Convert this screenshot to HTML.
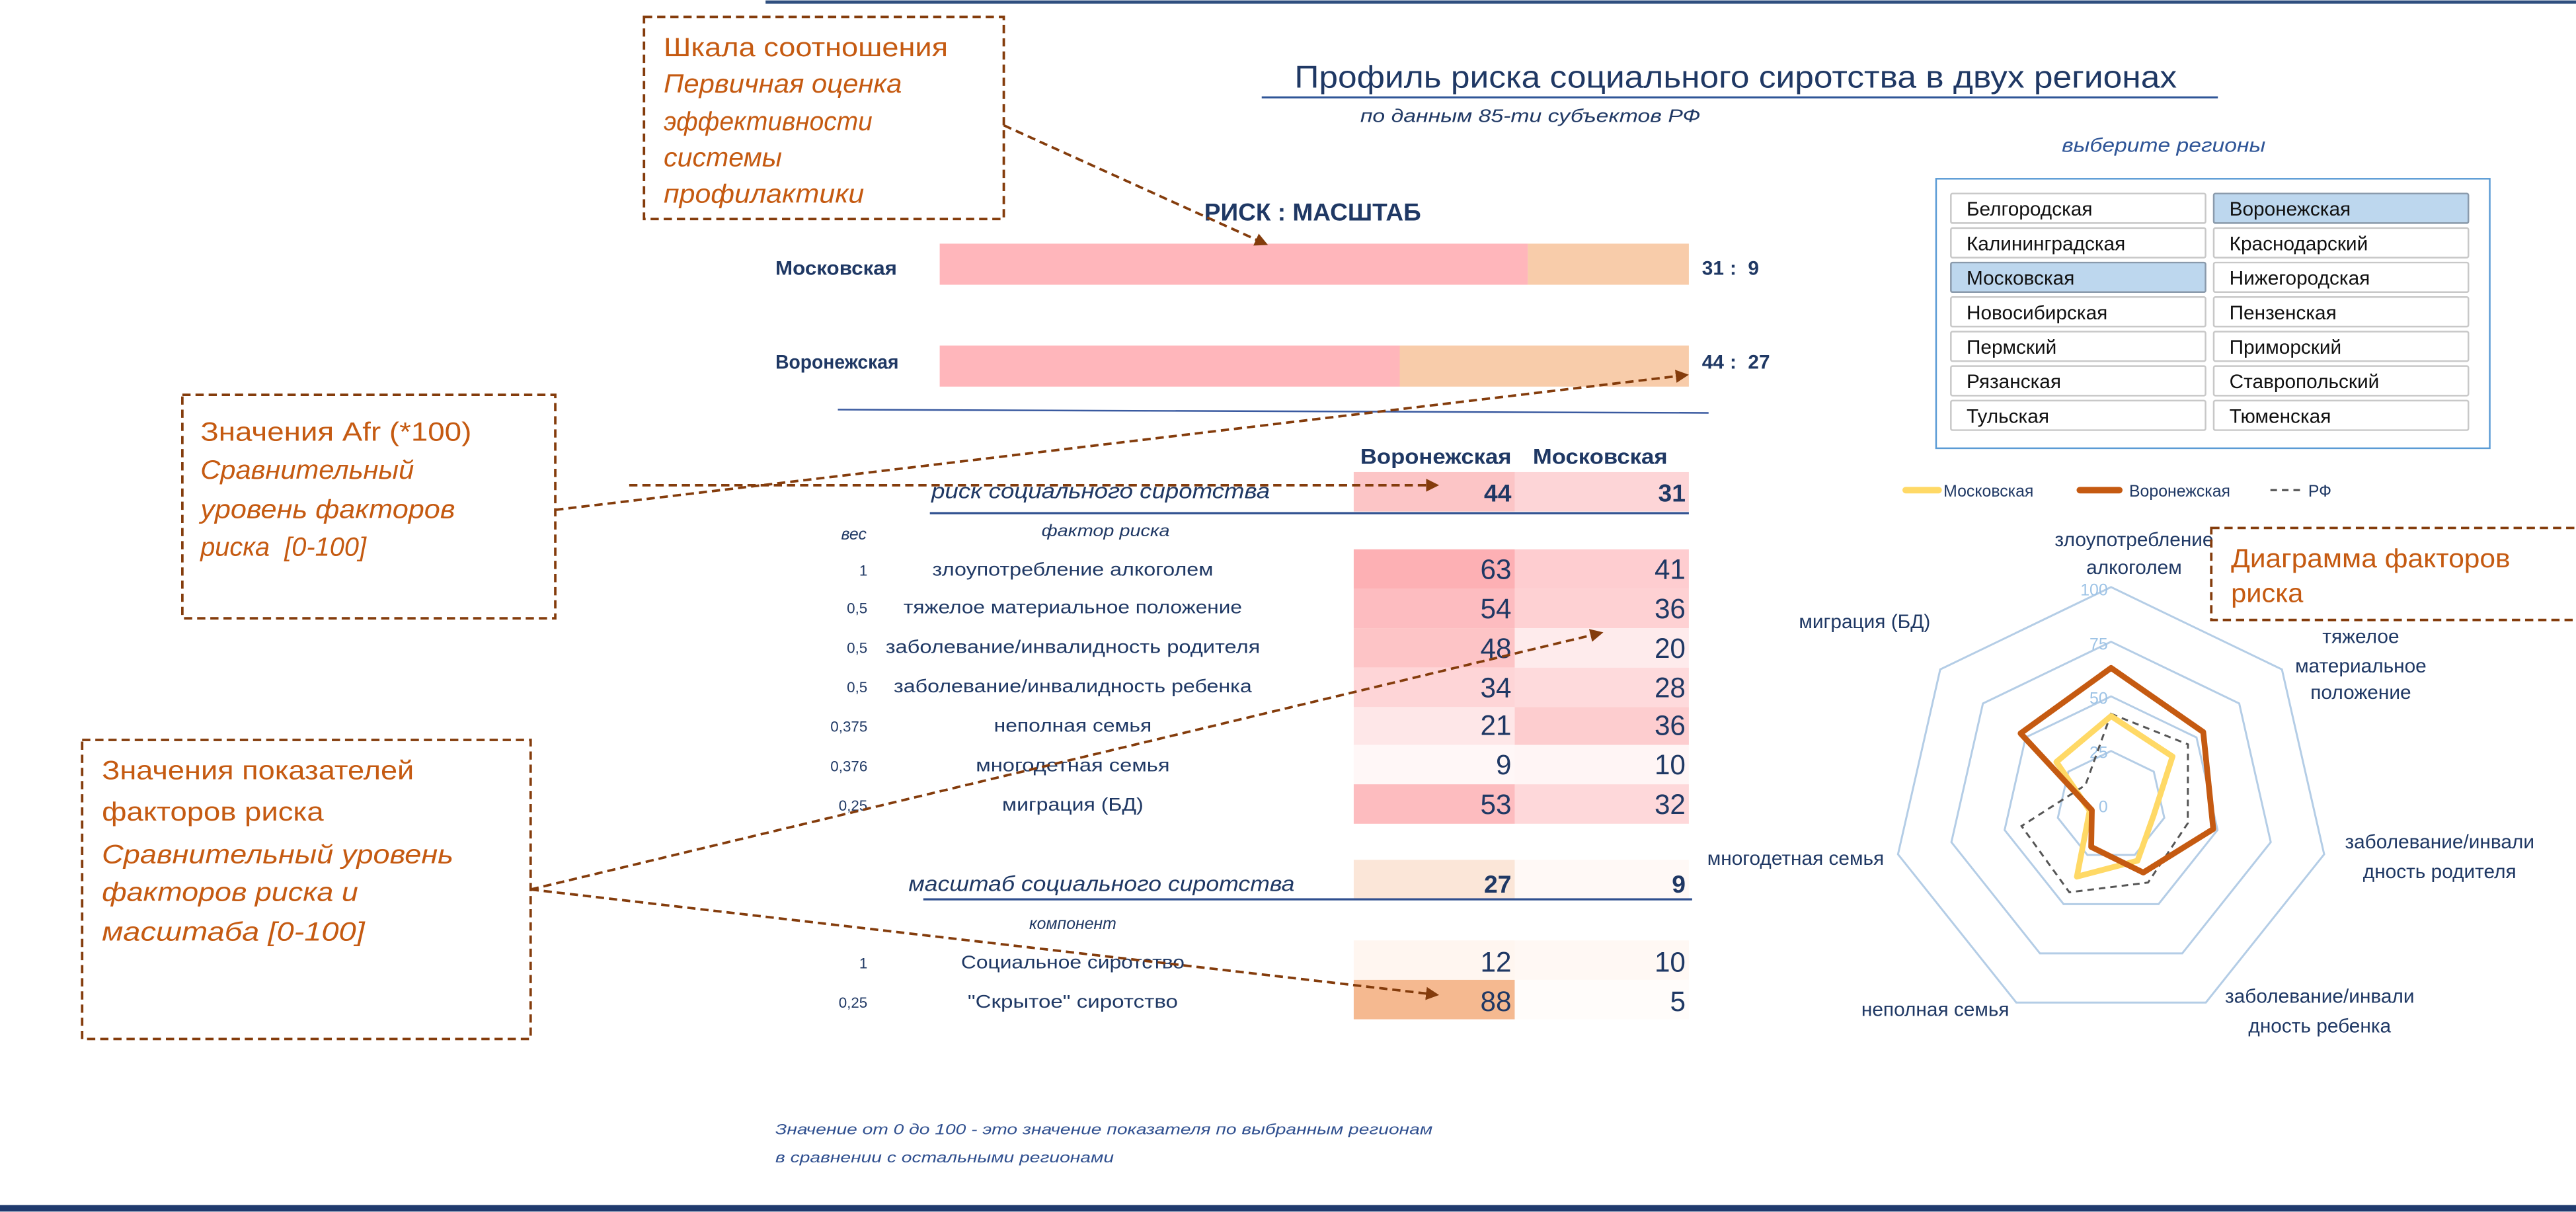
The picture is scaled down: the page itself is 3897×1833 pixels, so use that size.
<!DOCTYPE html>
<html><head><meta charset="utf-8"><style>
html,body{margin:0;padding:0;background:#fff}
svg{display:block}
text{font-family:"Liberation Sans",sans-serif}
</style></head><body>
<svg width="3897" height="1833" viewBox="0 0 1568 737" xmlns="http://www.w3.org/2000/svg">
<defs>
<marker id="ah" markerWidth="8" markerHeight="8" refX="6" refY="4" orient="auto" markerUnits="userSpaceOnUse">
<path d="M0,0 L8,4 L0,8 Z" fill="#843c0c"/></marker>
</defs>
<rect width="1568" height="737" fill="#fff"/>
<rect x="466" y="0" width="1102" height="2" fill="#2f4f7f"/>
<rect x="0" y="733" width="1568" height="4" fill="#1f3a6e"/>

<!-- Title -->
<text x="788" y="53" font-size="19" fill="#1f3864" textLength="537" lengthAdjust="spacingAndGlyphs">Профиль риска социального сиротства в двух регионах</text>
<line x1="768" y1="59" x2="1350" y2="59" stroke="#2f5597" stroke-width="1.2"/>
<text x="828" y="74" font-size="11" font-style="italic" fill="#1f3864" textLength="207" lengthAdjust="spacingAndGlyphs">по данным 85-ти субъектов РФ</text>

<!-- Ratio bars -->
<text x="733" y="134" font-size="15" font-weight="bold" fill="#1f3864" textLength="132" lengthAdjust="spacingAndGlyphs">РИСК : МАСШТАБ</text>
<text x="472" y="167" font-size="12" font-weight="bold" fill="#1f3864" textLength="74" lengthAdjust="spacingAndGlyphs">Московская</text>
<rect x="572" y="148" width="358" height="25" fill="#ffb6bb"/>
<rect x="930" y="148" width="98" height="25" fill="#f8ccaa"/>
<text x="1036" y="167" font-size="12" font-weight="bold" fill="#1f3864">31</text>
<text x="1053" y="167" font-size="12" font-weight="bold" fill="#1f3864">:</text>
<text x="1064" y="167" font-size="12" font-weight="bold" fill="#1f3864">9</text>
<text x="472" y="224" font-size="12" font-weight="bold" fill="#1f3864" textLength="75" lengthAdjust="spacingAndGlyphs">Воронежская</text>
<rect x="572" y="210" width="280" height="25" fill="#ffb6bb"/>
<rect x="852" y="210" width="176" height="25" fill="#f8ccaa"/>
<text x="1036" y="224" font-size="12" font-weight="bold" fill="#1f3864">44</text>
<text x="1053" y="224" font-size="12" font-weight="bold" fill="#1f3864">:</text>
<text x="1064" y="224" font-size="12" font-weight="bold" fill="#1f3864">27</text>
<line x1="510" y1="249" x2="1040" y2="251" stroke="#3a5aa0" stroke-width="1"/>

<!-- Table -->
<text x="828" y="282" font-size="13" font-weight="bold" fill="#1f3864" textLength="92" lengthAdjust="spacingAndGlyphs">Воронежская</text>
<text x="933" y="282" font-size="13" font-weight="bold" fill="#1f3864" textLength="82" lengthAdjust="spacingAndGlyphs">Московская</text>
<rect x="824" y="287" width="98" height="24" fill="#fcc5c6"/>
<rect x="922" y="287" width="106" height="24" fill="#fdd5d7"/>
<text x="567" y="303" font-size="13" font-style="italic" fill="#1f3864" textLength="206" lengthAdjust="spacingAndGlyphs">риск социального сиротства</text>
<text x="920" y="305" font-size="15" font-weight="bold" fill="#1f3864" text-anchor="end">44</text>
<text x="1026" y="305" font-size="15" font-weight="bold" fill="#1f3864" text-anchor="end">31</text>
<line x1="566" y1="312" x2="1028" y2="312" stroke="#2f4f8f" stroke-width="1.3"/>
<text x="512" y="328" font-size="10" font-style="italic" fill="#1f3864">вес</text>
<text x="634" y="326" font-size="10" font-style="italic" fill="#1f3864" textLength="78" lengthAdjust="spacingAndGlyphs">фактор риска</text>

<g font-size="11" fill="#1f3864">
<rect x="824" y="334" width="98" height="24" fill="#fdb0b4"/><rect x="922" y="334" width="106" height="24" fill="#fecdd0"/>
<rect x="824" y="358" width="98" height="24" fill="#fdbcc0"/><rect x="922" y="358" width="106" height="24" fill="#fed1d3"/>
<rect x="824" y="382" width="98" height="24" fill="#fdc4c6"/><rect x="922" y="382" width="106" height="24" fill="#feebec"/>
<rect x="824" y="406" width="98" height="24" fill="#fed5d7"/><rect x="922" y="406" width="106" height="24" fill="#fedadc"/>
<rect x="824" y="430" width="98" height="23" fill="#fee7e8"/><rect x="922" y="430" width="106" height="23" fill="#fdcdcf"/>
<rect x="824" y="453" width="98" height="24" fill="#fff7f7"/><rect x="922" y="453" width="106" height="24" fill="#fff5f5"/>
<rect x="824" y="477" width="98" height="24" fill="#fdbcbf"/><rect x="922" y="477" width="106" height="24" fill="#fed8da"/>

<text x="528" y="350" font-size="9" text-anchor="end">1</text>
<text x="528" y="373" font-size="9" text-anchor="end">0,5</text>
<text x="528" y="397" font-size="9" text-anchor="end">0,5</text>
<text x="528" y="421" font-size="9" text-anchor="end">0,5</text>
<text x="528" y="445" font-size="9" text-anchor="end">0,375</text>
<text x="528" y="469" font-size="9" text-anchor="end">0,376</text>
<text x="528" y="493" font-size="9" text-anchor="end">0,25</text>

<text x="653" y="350" text-anchor="middle" textLength="171" lengthAdjust="spacingAndGlyphs">злоупотребление алкоголем</text>
<text x="653" y="373" text-anchor="middle" textLength="206" lengthAdjust="spacingAndGlyphs">тяжелое материальное положение</text>
<text x="653" y="397" text-anchor="middle" textLength="228" lengthAdjust="spacingAndGlyphs">заболевание/инвалидность родителя</text>
<text x="653" y="421" text-anchor="middle" textLength="218" lengthAdjust="spacingAndGlyphs">заболевание/инвалидность ребенка</text>
<text x="653" y="445" text-anchor="middle" textLength="96" lengthAdjust="spacingAndGlyphs">неполная семья</text>
<text x="653" y="469" text-anchor="middle" textLength="118" lengthAdjust="spacingAndGlyphs">многодетная семья</text>
<text x="653" y="493" text-anchor="middle" textLength="86" lengthAdjust="spacingAndGlyphs">миграция (БД)</text>

<g font-size="17" text-anchor="end">
<text x="920" y="352">63</text><text x="1026" y="352">41</text>
<text x="920" y="376">54</text><text x="1026" y="376">36</text>
<text x="920" y="400">48</text><text x="1026" y="400">20</text>
<text x="920" y="424">34</text><text x="1026" y="424">28</text>
<text x="920" y="447">21</text><text x="1026" y="447">36</text>
<text x="920" y="471">9</text><text x="1026" y="471">10</text>
<text x="920" y="495">53</text><text x="1026" y="495">32</text>
</g>

<rect x="824" y="523" width="98" height="24" fill="#fbe6d8"/><rect x="922" y="523" width="106" height="24" fill="#fff9f6"/>
<text x="553" y="542" font-size="13" font-style="italic" textLength="235" lengthAdjust="spacingAndGlyphs">масштаб социального сиротства</text>
<text x="920" y="543" font-size="15" font-weight="bold" text-anchor="end">27</text>
<text x="1026" y="543" font-size="15" font-weight="bold" text-anchor="end">9</text>
<line x1="562" y1="547" x2="1030" y2="547" stroke="#2f4f8f" stroke-width="1.3"/>
<text x="653" y="565" font-size="10" font-style="italic" text-anchor="middle">компонент</text>
<rect x="824" y="572" width="98" height="24" fill="#fff6f0"/><rect x="922" y="572" width="106" height="24" fill="#fff8f4"/>
<rect x="824" y="596" width="98" height="24" fill="#f5b990"/><rect x="922" y="596" width="106" height="24" fill="#fffcfa"/>
<text x="528" y="589" font-size="9" text-anchor="end">1</text>
<text x="528" y="613" font-size="9" text-anchor="end">0,25</text>
<text x="653" y="589" text-anchor="middle" textLength="136" lengthAdjust="spacingAndGlyphs">Социальное сиротство</text>
<text x="653" y="613" text-anchor="middle" textLength="128" lengthAdjust="spacingAndGlyphs">"Скрытое" сиротство</text>
<text x="920" y="591" font-size="17" text-anchor="end">12</text><text x="1026" y="591" font-size="17" text-anchor="end">10</text>
<text x="920" y="615" font-size="17" text-anchor="end">88</text><text x="1026" y="615" font-size="17" text-anchor="end">5</text>
</g>

<text x="472" y="690" font-size="9" font-style="italic" fill="#2f4f8f" textLength="400" lengthAdjust="spacingAndGlyphs">Значение от 0 до 100 - это значение показателя по выбранным регионам</text>
<text x="472" y="707" font-size="9" font-style="italic" fill="#2f4f8f" textLength="206" lengthAdjust="spacingAndGlyphs">в сравнении с остальными регионами</text>

<!-- Region selector -->
<text x="1255" y="92" font-size="12" font-style="italic" fill="#2f5597" textLength="124" lengthAdjust="spacingAndGlyphs">выберите регионы</text>
<rect x="1178.5" y="108.5" width="337" height="164" fill="#fff" stroke="#5b9bd5" stroke-width="1"/>
<g font-size="12" fill="#111">
<g stroke="#c8c8c8" stroke-width="1">
<rect x="1187.5" y="117.5" width="155" height="18" rx="1" fill="#fff"/><rect x="1347.5" y="117.5" width="155" height="18" rx="1" fill="#bdd7ee" stroke="#8a9aab"/>
<rect x="1187.5" y="138.5" width="155" height="18" rx="1" fill="#fff"/><rect x="1347.5" y="138.5" width="155" height="18" rx="1" fill="#fff"/>
<rect x="1187.5" y="159.5" width="155" height="18" rx="1" fill="#bdd7ee" stroke="#8a9aab"/><rect x="1347.5" y="159.5" width="155" height="18" rx="1" fill="#fff"/>
<rect x="1187.5" y="180.5" width="155" height="18" rx="1" fill="#fff"/><rect x="1347.5" y="180.5" width="155" height="18" rx="1" fill="#fff"/>
<rect x="1187.5" y="201.5" width="155" height="18" rx="1" fill="#fff"/><rect x="1347.5" y="201.5" width="155" height="18" rx="1" fill="#fff"/>
<rect x="1187.5" y="222.5" width="155" height="18" rx="1" fill="#fff"/><rect x="1347.5" y="222.5" width="155" height="18" rx="1" fill="#fff"/>
<rect x="1187.5" y="243.5" width="155" height="18" rx="1" fill="#fff"/><rect x="1347.5" y="243.5" width="155" height="18" rx="1" fill="#fff"/>
</g>
<text x="1197" y="131">Белгородская</text><text x="1357" y="131">Воронежская</text>
<text x="1197" y="152">Калининградская</text><text x="1357" y="152">Краснодарский</text>
<text x="1197" y="173">Московская</text><text x="1357" y="173">Нижегородская</text>
<text x="1197" y="194">Новосибирская</text><text x="1357" y="194">Пензенская</text>
<text x="1197" y="215">Пермский</text><text x="1357" y="215">Приморский</text>
<text x="1197" y="236">Рязанская</text><text x="1357" y="236">Ставропольский</text>
<text x="1197" y="257">Тульская</text><text x="1357" y="257">Тюменская</text>
</g>

<!-- Legend -->
<line x1="1160" y1="298" x2="1180" y2="298" stroke="#ffd966" stroke-width="4" stroke-linecap="round"/>
<text x="1183" y="302" font-size="10" fill="#1f3864">Московская</text>
<line x1="1266" y1="298" x2="1290" y2="298" stroke="#c55a11" stroke-width="4" stroke-linecap="round"/>
<text x="1296" y="302" font-size="10" fill="#1f3864">Воронежская</text>
<line x1="1382" y1="298" x2="1400" y2="298" stroke="#555" stroke-width="1.3" stroke-dasharray="4,3"/>
<text x="1405" y="302" font-size="10" fill="#1f3864">РФ</text>

<!-- Radar -->
<g fill="none" stroke="#b4cde6" stroke-width="1.2">
<polygon points="1285,357 1389,407.1 1414.7,519.6 1342.7,609.8 1227.3,609.8 1155.3,519.6 1181,407.1"/>
<polygon points="1285,390.25 1363,427.8 1382.2,512.2 1328.3,579.9 1241.7,579.9 1187.8,512.2 1207,427.8"/>
<polygon points="1285,423.5 1337,448.5 1349.8,504.8 1313.9,549.9 1256.1,549.9 1220.2,504.8 1233,448.5"/>
<polygon points="1285,456.75 1311,469.3 1317.4,497.4 1299.4,520 1270.6,520 1252.6,497.4 1259,469.3"/>
</g>
<g font-size="10" fill="#9dc3e6" text-anchor="end">
<text x="1283" y="362">100</text><text x="1283" y="395">75</text><text x="1283" y="428">50</text><text x="1283" y="461">25</text><text x="1283" y="494">0</text>
</g>
<polygon points="1285,434.1 1331.8,452.7 1331.7,500.7 1307.5,536.8 1259.6,542.7 1230.5,502.4 1269.4,477.5" fill="none" stroke="#555" stroke-width="1.2" stroke-dasharray="4,3"/>
<polygon points="1285,435.5 1322.4,460.1 1310.9,495.9 1301.1,523.5 1264.2,533.2 1272,493 1251.7,463.4" fill="none" stroke="#ffd966" stroke-width="3.5" stroke-linejoin="round"/>
<polygon points="1285,406.2 1341.1,445.2 1347.2,504.2 1304.6,530.7 1272.9,515.1 1273.3,492.7 1229.9,446" fill="none" stroke="#c55a11" stroke-width="3.5" stroke-linejoin="round"/>
<g font-size="12" fill="#1f3864" text-anchor="middle">
<text x="1299" y="332">злоупотребление</text><text x="1299" y="349">алкоголем</text>
<text x="1437" y="391">тяжелое</text><text x="1437" y="409">материальное</text><text x="1437" y="425">положение</text>
<text x="1485" y="516">заболевание/инвали</text><text x="1485" y="534">дность родителя</text>
<text x="1412" y="610">заболевание/инвали</text><text x="1412" y="628">дность ребенка</text>
<text x="1178" y="618">неполная семья</text>
<text x="1093" y="526">многодетная семья</text>
<text x="1135" y="382">миграция (БД)</text>
</g>

<!-- Callouts -->
<g fill="none" stroke="#843c0c" stroke-width="1.5" stroke-dasharray="5,3">
<rect x="392" y="10" width="219" height="123"/>
<rect x="111" y="240" width="227" height="136"/>
<rect x="50" y="450" width="273" height="182"/>
<rect x="1346" y="321" width="230" height="56"/>
<line x1="611" y1="76" x2="770" y2="148" marker-end="url(#ah)"/>
<line x1="338" y1="310" x2="1026" y2="228" marker-end="url(#ah)"/>
<line x1="383" y1="295" x2="874" y2="295" marker-end="url(#ah)"/>
<line x1="323" y1="541" x2="974" y2="385" marker-end="url(#ah)"/>
<line x1="323" y1="541" x2="874" y2="605" marker-end="url(#ah)"/>
</g>
<g fill="#c55a11" font-size="16">
<text x="404" y="34" textLength="173" lengthAdjust="spacingAndGlyphs">Шкала соотношения</text>
<g font-style="italic">
<text x="404" y="56" textLength="145" lengthAdjust="spacingAndGlyphs">Первичная оценка</text>
<text x="404" y="79" textLength="127" lengthAdjust="spacingAndGlyphs">эффективности</text>
<text x="404" y="101" textLength="72" lengthAdjust="spacingAndGlyphs">системы</text>
<text x="404" y="123" textLength="122" lengthAdjust="spacingAndGlyphs">профилактики</text>
</g>
<text x="122" y="268" textLength="165" lengthAdjust="spacingAndGlyphs">Значения Afr (*100)</text>
<g font-style="italic">
<text x="122" y="291" textLength="130" lengthAdjust="spacingAndGlyphs">Сравнительный</text>
<text x="122" y="315" textLength="155" lengthAdjust="spacingAndGlyphs">уровень факторов</text>
<text x="122" y="338" xml:space="preserve">риска  [0-100]</text>
</g>
<text x="62" y="474" textLength="190" lengthAdjust="spacingAndGlyphs">Значения показателей</text>
<text x="62" y="499" textLength="135" lengthAdjust="spacingAndGlyphs">факторов риска</text>
<g font-style="italic">
<text x="62" y="525" textLength="214" lengthAdjust="spacingAndGlyphs">Сравнительный уровень</text>
<text x="62" y="548" textLength="156" lengthAdjust="spacingAndGlyphs">факторов риска и</text>
<text x="62" y="572" textLength="160" lengthAdjust="spacingAndGlyphs">масштаба [0-100]</text>
</g>
<text x="1358" y="345" textLength="170" lengthAdjust="spacingAndGlyphs">Диаграмма факторов</text>
<text x="1358" y="366" textLength="44" lengthAdjust="spacingAndGlyphs">риска</text>
</g>
</svg>
</body></html>
